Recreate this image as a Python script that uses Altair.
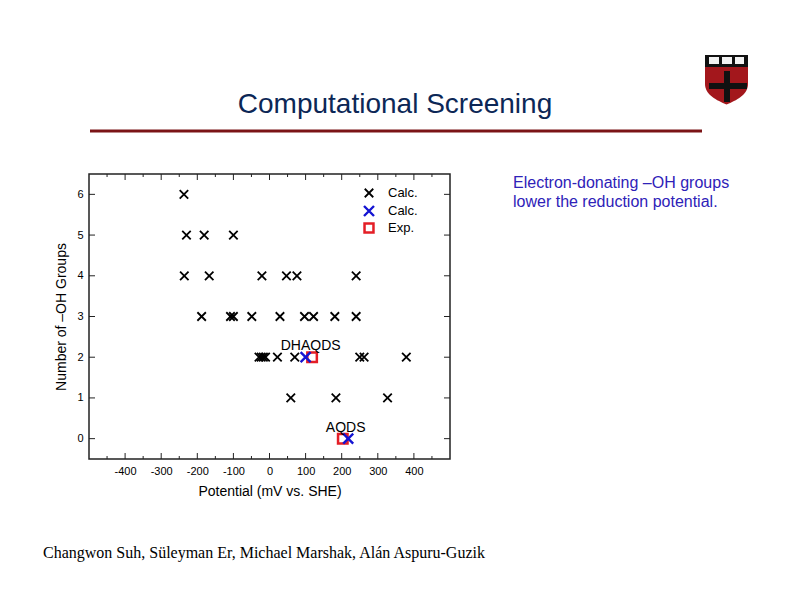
import altair as alt
import pandas as pd

# ---------------- data ----------------
calc_mv = [-237,
           -230, -181, -100,
           -236, -167, -21, 47, 76, 240,
           -188, -108, -100, -49, 29, 97, 122, 181, 240,
           -29, -23, -17, -11, 22, 70, 250, 262, 379,
           59, 184, 327]
calc_oh = [6,
           5, 5, 5,
           4, 4, 4, 4, 4, 4,
           3, 3, 3, 3, 3, 3, 3, 3, 3,
           2, 2, 2, 2, 2, 2, 2, 2, 2,
           1, 1, 1]
blue_mv = [100, 218]
blue_oh = [2, 0]
exp_mv = [118, 203]
exp_oh = [2, 0]
label_names = ["DHAQDS", "AQDS"]
label_mv = [114, 211]
label_oh = [2, 0]

x_major = [-400, -300, -200, -100, 0, 100, 200, 300, 400]
x_minor = [-450, -350, -250, -150, -50, 50, 150, 250, 350, 450]
y_major = [0, 1, 2, 3, 4, 5, 6]

calc_df = pd.DataFrame({"mv": calc_mv, "oh": calc_oh})
blue_df = pd.DataFrame({"mv": blue_mv, "oh": blue_oh})
exp_df = pd.DataFrame({"mv": exp_mv, "oh": exp_oh})
lbl_df = pd.DataFrame({"mv": label_mv, "oh": label_oh, "name": label_names})
xmaj_df = pd.DataFrame({"mv": x_major})
xmin_df = pd.DataFrame({"mv": x_minor})
ymaj_df = pd.DataFrame({"oh": y_major})
one = pd.DataFrame({"a": [0]})

W, H = 361, 285
FONT = "Liberation Sans"
XPATH = "M-1,-1L1,1M-1,1L1,-1"

xs = alt.Scale(domain=[-500, 500], nice=False, zero=False)
ys = alt.Scale(domain=[-0.5, 6.5], nice=False, zero=False)
x_axis = alt.Axis(values=x_major, labelExpr="'' + datum.value", ticks=False, grid=False,
                  domain=False, title="Potential (mV vs. SHE)", titleFontSize=14,
                  titleFontWeight="normal", titleFont=FONT, labelFont=FONT, labelFontSize=11,
                  labelColor="black", titleColor="black", labelPadding=6, titlePadding=8,
                  labelFlush=False)
y_axis = alt.Axis(values=y_major, labelExpr="'' + datum.value", ticks=False, grid=False,
                  domain=False, title="Number of \u2013OH Groups", titleFontSize=14,
                  titleFontWeight="normal", titleFont=FONT, labelFont=FONT, labelFontSize=11,
                  labelColor="black", titleColor="black", labelPadding=6, titlePadding=8,
                  labelFlush=False)


def X(field="mv"):
    return alt.X(f"{field}:Q", scale=xs, axis=x_axis)


def Y(field="oh"):
    return alt.Y(f"{field}:Q", scale=ys, axis=y_axis)


# ---------------- data marks ----------------
calc = alt.Chart(calc_df).mark_point(shape=XPATH, size=72, filled=False, color="black",
                                     strokeWidth=1.8, opacity=1).encode(x=X(), y=Y())
exp = alt.Chart(exp_df).mark_point(shape="square", size=90, filled=False, color="#e41e26",
                                   strokeWidth=2.5, opacity=1).encode(x=X(), y=Y())
blue = alt.Chart(blue_df).mark_point(shape=XPATH, size=100, filled=False, color="#1414d2",
                                     strokeWidth=2.4, opacity=1).encode(x=X(), y=Y())
labels = alt.Chart(lbl_df).mark_text(font=FONT, fontSize=14, color="black", dy=-7,
                                     baseline="alphabetic", align="center").encode(
    x=X(), y=Y(), text="name:N")

# ---------------- frame ticks (inward) ----------------
TC = "#222222"
bot_major = alt.Chart(xmaj_df).mark_rule(color=TC, strokeWidth=1).encode(
    x=X(), y=alt.value(H), y2=alt.value(H - 6))
bot_minor = alt.Chart(xmin_df).mark_rule(color=TC, strokeWidth=1).encode(
    x=X(), y=alt.value(H), y2=alt.value(H - 3))
top_major = alt.Chart(xmaj_df).mark_rule(color=TC, strokeWidth=1).encode(
    x=X(), y=alt.value(0), y2=alt.value(6))
top_minor = alt.Chart(xmin_df).mark_rule(color=TC, strokeWidth=1).encode(
    x=X(), y=alt.value(0), y2=alt.value(3))
left_t = alt.Chart(ymaj_df).mark_rule(color=TC, strokeWidth=1).encode(
    y=Y(), x=alt.value(0), x2=alt.value(6))
right_t = alt.Chart(ymaj_df).mark_rule(color=TC, strokeWidth=1).encode(
    y=Y(), x=alt.value(W), x2=alt.value(W - 6))

# ---------------- legend ----------------
LX, LTX = 280, 299
leg = []
leg_items = [(19, XPATH, "black", 72, 1.8, "Calc."),
             (37, XPATH, "#1414d2", 100, 2.4, "Calc."),
             (54, "square", "#e41e26", 80, 2.5, "Exp.")]
for yy, shp, col, sz, sw, txt in leg_items:
    leg.append(alt.Chart(one).mark_point(shape=shp, size=sz, filled=False, color=col,
                                         strokeWidth=sw, opacity=1).encode(
        x=alt.value(LX), y=alt.value(yy)))
    leg.append(alt.Chart(one).mark_text(font=FONT, fontSize=13, color="black", align="left",
                                        baseline="middle").encode(
        x=alt.value(LTX), y=alt.value(yy), text=alt.value(txt)))

# ---------------- slide decorations (pixel offsets from plot origin) ----------------
title = alt.Chart(one).mark_text(font=FONT, fontSize=28, color="#0c2756", align="center",
                                 baseline="alphabetic").encode(
    x=alt.value(306), y=alt.value(-61), text=alt.value("Computational Screening"))
red_line = alt.Chart(one).mark_rule(color="#7b1416", strokeWidth=3).encode(
    x=alt.value(1), x2=alt.value(613), y=alt.value(-43))
note = alt.Chart(one).mark_text(font=FONT, fontSize=16, color="#2e22b8", align="left",
                                baseline="alphabetic", lineHeight=18.5).encode(
    x=alt.value(424), y=alt.value(14),
    text=alt.value(["Electron-donating \u2013OH groups", "lower the reduction potential."]))
authors = alt.Chart(one).mark_text(font="Liberation Serif", fontSize=16, color="black",
                                   align="left", baseline="alphabetic").encode(
    x=alt.value(-46), y=alt.value(384),
    text=alt.value("Changwon Suh, S\u00fcleyman Er, Michael Marshak, Al\u00e1n Aspuru-Guzik"))

SHIELD = "M-1,-1L1,-1L1,0.35C1,0.85 0.45,1.12 0,1.3C-0.45,1.12 -1,0.85 -1,0.35Z"
shield = alt.Chart(one).mark_point(shape=SHIELD, size=1849, filled=True, color="#a3171c",
                                   opacity=1, strokeWidth=0).encode(
    x=alt.value(637.5), y=alt.value(-97.5))
band = alt.Chart(one).mark_rect(color="#111111").encode(
    x=alt.value(616), x2=alt.value(659), y=alt.value(-119), y2=alt.value(-107))
books = [alt.Chart(one).mark_rect(color="#f2f2f2").encode(
    x=alt.value(a), x2=alt.value(b), y=alt.value(-117), y2=alt.value(-110))
    for a, b in [(620, 630), (633, 643), (646, 655)]]
cross_v = alt.Chart(one).mark_rule(color="#111111", strokeWidth=6).encode(
    x=alt.value(638), y=alt.value(-103), y2=alt.value(-72))
cross_h = alt.Chart(one).mark_rule(color="#111111", strokeWidth=6).encode(
    x=alt.value(620), x2=alt.value(658), y=alt.value(-88))

chart = alt.layer(
    calc, exp, blue, labels,
    bot_major, bot_minor, top_major, top_minor, left_t, right_t,
    *leg,
    title, red_line, note, authors,
    shield, band, *books, cross_v, cross_h,
).properties(
    width=W, height=H,
    padding={"left": 81, "top": 166, "right": 320, "bottom": 130},
    autosize=alt.AutoSizeParams(type="none"),
    background="white",
).configure_view(stroke="#222222", strokeWidth=1.5)

chart.save("out.html", embed_options={"renderer": "svg", "actions": False})
